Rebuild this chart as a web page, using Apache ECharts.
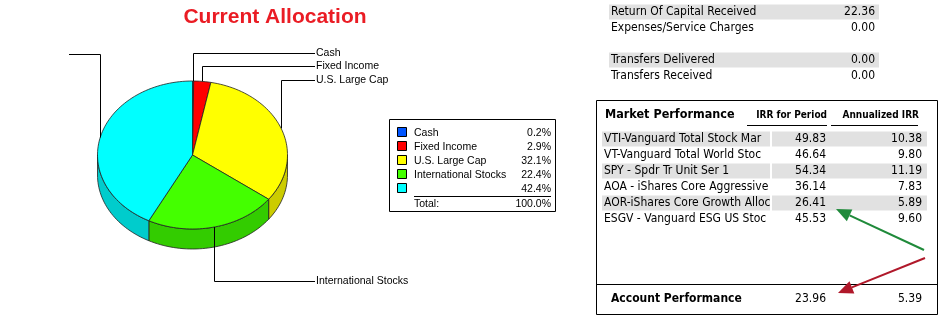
<!DOCTYPE html>
<html>
<head>
<meta charset="utf-8">
<script src="https://cdn.jsdelivr.net/npm/echarts@6/dist/echarts.min.js"></script>
<style>
html, body { margin: 0; padding: 0; background: #fff; }
#chart { width: 946px; height: 326px; }
</style>
</head>
<body>
<div id="chart"></div>
<script>
// allocation pie
const sliceNames = ['Cash', 'Fixed Income', 'U.S. Large Cap', 'International Stocks', ''];
const slicePercents = [0.2, 2.9, 32.1, 22.4, 42.4];
const totalText = '100.0%';

// summary rows (top right)
const summaryLabels = ['Return Of Capital Received', 'Expenses/Service Charges', '', 'Transfers Delivered', 'Transfers Received'];
const summaryValues = ['22.36', '0.00', '', '0.00', '0.00'];

// market performance table
const fundNames = ['VTI-Vanguard Total Stock Mar', 'VT-Vanguard Total World Stoc', 'SPY - Spdr Tr Unit Ser 1',
  'AOA - iShares Core Aggressive', 'AOR-iShares Core Growth Alloc', 'ESGV - Vanguard ESG US Stoc'];
const irrPeriod = ['49.83', '46.64', '54.34', '36.14', '26.41', '45.53'];
const irrAnnual = ['10.38', '9.80', '11.19', '7.83', '5.89', '9.60'];
const accountIrr = ['23.96', '5.39'];

const topColors = ['#0055ff', '#ff0000', '#ffff00', '#44ff00', '#00ffff'];
const sideColors = ['#0044cc', '#cc0000', '#cccc00', '#33cc00', '#00cccc'];
const labelLevels = [53.5, 66.5, 80.5, 281.5, 54.5];

const cx = 192.5, cy = 155, rx = 95, ry = 74, depth = 20;
const labelFont = '10.5px "Liberation Sans", Arial, sans-serif';
const tableFace = '"DejaVu Sans Condensed", Tahoma, sans-serif';
const tableFont = '12px ' + tableFace;

const total = slicePercents.reduce((a, b) => a + b, 0);
const cum = [0];
slicePercents.forEach((v, i) => cum.push(cum[i] + v));

function rim(a, dy) {
  const r = a * Math.PI / 180;
  return [cx + rx * Math.sin(r), cy - ry * Math.cos(r) + (dy || 0)];
}
function arc(a0, a1, dy) {
  const pts = [];
  const n = Math.max(2, Math.ceil((a1 - a0) / 2));
  for (let i = 0; i <= n; i++) pts.push(rim(a0 + (a1 - a0) * i / n, dy));
  return pts;
}

function renderSlice(params, api) {
  const i = params.dataIndex;
  const a0 = cum[i] / total * 360;
  const a1 = cum[i + 1] / total * 360;
  const children = [];
  const s0 = Math.max(a0, 90), s1 = Math.min(a1, 270);
  if (s1 > s0) {
    children.push({
      type: 'polygon',
      shape: { points: arc(s0, s1, 0).concat(arc(s0, s1, depth).reverse()) },
      style: { fill: sideColors[i], stroke: '#222', lineWidth: 0.8 }
    });
  }
  children.push({
    type: 'polygon',
    shape: { points: [[cx, cy]].concat(arc(a0, a1, 0)) },
    style: { fill: topColors[i], stroke: '#222', lineWidth: 0.8 }
  });
  // leader line
  const mid = (a0 + a1) / 2;
  const p = rim(mid, 0);
  const x0 = Math.round(p[0]) + 0.5;
  const ly = labelLevels[i];
  const right = Math.sin(mid * Math.PI / 180) >= 0;
  const endX = right ? 315 : 69;
  children.push({
    type: 'polyline',
    shape: { points: [[x0, p[1]], [x0, ly], [endX, ly]] },
    style: { stroke: '#000', lineWidth: 1, fill: null }
  });
  if (sliceNames[i]) {
    children.push({
      type: 'text',
      style: {
        text: sliceNames[i], x: right ? endX + 1 : endX - 1, y: ly,
        font: labelFont, fill: '#000',
        textAlign: right ? 'left' : 'right', textVerticalAlign: 'middle'
      }
    });
  }
  return { type: 'group', children: children };
}

function txt(text, x, y, font, align, color) {
  return {
    type: 'text', x: x, y: y, silent: true,
    style: { text: text, font: font, fill: color || '#000', textAlign: align || 'left', textVerticalAlign: 'middle' }
  };
}
function rect(x, y, w, h, fill, stroke) {
  return {
    type: 'rect', shape: { x: x, y: y, width: w, height: h }, silent: true,
    style: { fill: fill || 'none', stroke: stroke || null, lineWidth: 1 }
  };
}
function line(x1, y1, x2, y2, color, w) {
  return {
    type: 'line', shape: { x1: x1, y1: y1, x2: x2, y2: y2 }, silent: true,
    style: { stroke: color || '#000', lineWidth: w || 1 }
  };
}
function arrow(from, to, color) {
  const dx = to[0] - from[0], dy = to[1] - from[1];
  const len = Math.sqrt(dx * dx + dy * dy);
  const ux = dx / len, uy = dy / len;
  const hl = 15, hw = 6.5;
  const bx = to[0] - ux * hl, by = to[1] - uy * hl;
  return [
    line(from[0], from[1], bx, by, color, 2),
    {
      type: 'polygon', silent: true,
      shape: { points: [to, [bx - uy * hw, by + ux * hw], [bx + uy * hw, by - ux * hw]] },
      style: { fill: color }
    }
  ];
}

const graphics = [];
// title
graphics.push(txt('Current Allocation', 275, 17, 'bold 21px "Liberation Sans", Arial, sans-serif', 'center', '#ea1c24'));

// legend box
graphics.push(rect(389.5, 119.5, 166, 92, '#fff', '#000'));
sliceNames.forEach((name, i) => {
  const y = 133 + 14 * i;
  graphics.push(rect(397.5, y - 5.5, 9, 9, topColors[i], '#000'));
  graphics.push(txt(name, 414, y, labelFont));
  graphics.push(txt(slicePercents[i].toFixed(1) + '%', 551, y, labelFont, 'right'));
});
graphics.push(line(414, 196.5, 551, 196.5));
graphics.push(txt('Total:', 414, 204, labelFont));
graphics.push(txt(totalText, 551, 204, labelFont, 'right'));

// summary rows
summaryLabels.forEach((name, i) => {
  const y = 12 + 16 * i;
  if (i === 0 || i === 3) graphics.push(rect(609, y - 7.5, 270, 15, '#e1e1e1'));
  if (name) {
    graphics.push(txt(name, 611, y, tableFont));
    graphics.push(txt(summaryValues[i], 875, y, tableFont, 'right'));
  }
});

// market performance box
graphics.push(rect(596.5, 100.5, 341, 214, '#fff', '#000'));
graphics.push(txt('Market Performance', 605, 115, 'bold 12.5px ' + tableFace));
graphics.push(txt('IRR for Period', 827, 115, 'bold 10px ' + tableFace, 'right'));
graphics.push(txt('Annualized IRR', 919, 115, 'bold 10px ' + tableFace, 'right'));
graphics.push(line(747, 125.5, 827, 125.5));
graphics.push(line(831, 125.5, 918, 125.5));
fundNames.forEach((name, i) => {
  const y = 139 + 16 * i;
  if (i % 2 === 0) {
    graphics.push(rect(602, y - 7.5, 168, 15, '#e1e1e1'));
    graphics.push(rect(772, y - 7.5, 155, 15, '#e1e1e1'));
  }
  graphics.push(txt(name, 604, y, tableFont));
  graphics.push(rect(770, y - 8, 2, 16, '#fff'));
  graphics.push(txt(irrPeriod[i], 826, y, tableFont, 'right'));
  graphics.push(txt(irrAnnual[i], 922, y, tableFont, 'right'));
});
graphics.push(line(596, 284.5, 938, 284.5));
graphics.push(txt('Account Performance', 611, 299, 'bold 12px ' + tableFace));
graphics.push(txt(accountIrr[0], 826, 299, tableFont, 'right'));
graphics.push(txt(accountIrr[1], 922, 299, tableFont, 'right'));

// annotation arrows
arrow([924, 250], [836, 209], '#1f8a3a').forEach(g => graphics.push(g));
arrow([925, 258], [838, 293], '#b0182a').forEach(g => graphics.push(g));

const chart = echarts.init(document.getElementById('chart'), null, { renderer: 'canvas' });
chart.setOption({
  animation: false,
  backgroundColor: '#fff',
  graphic: { elements: graphics },
  series: [{
    type: 'custom',
    coordinateSystem: 'none',
    renderItem: renderSlice,
    data: slicePercents.map(v => [v]),
    silent: true
  }]
});
window.addEventListener('resize', () => chart.resize());
</script>
</body>
</html>
